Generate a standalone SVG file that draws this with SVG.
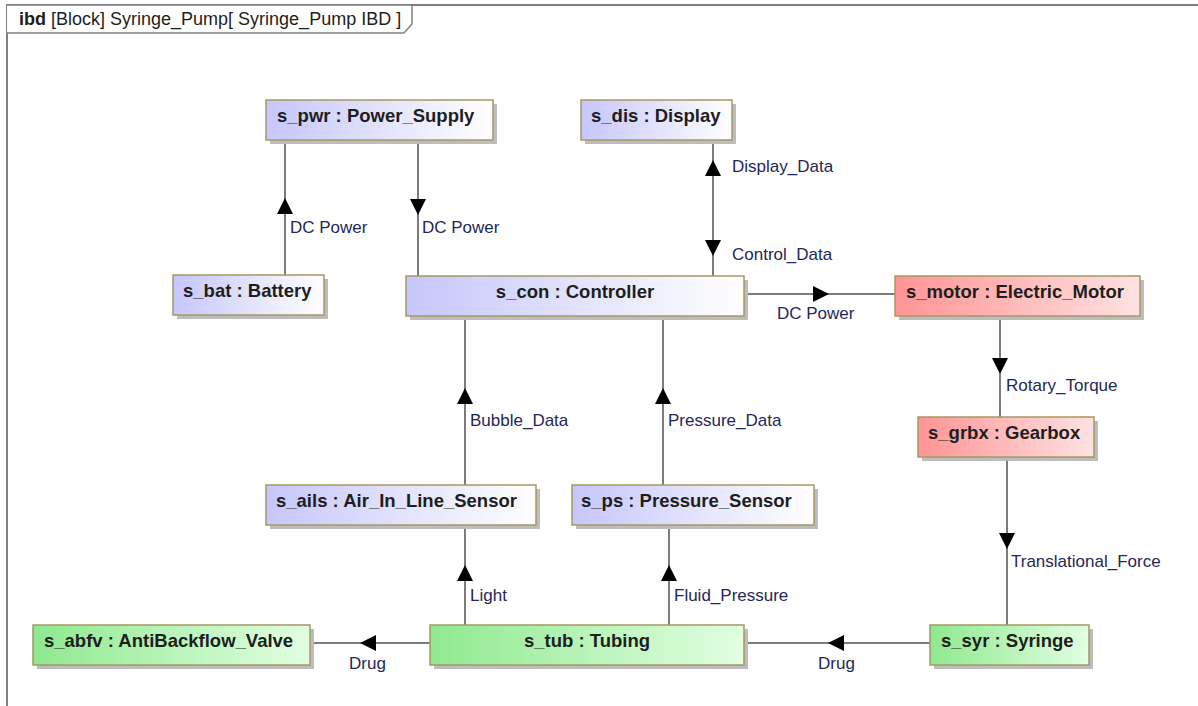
<svg xmlns="http://www.w3.org/2000/svg" width="1198" height="706" viewBox="0 0 1198 706">
  <defs>
    <linearGradient id="gBlue" x1="0" y1="0" x2="1" y2="0">
      <stop offset="0" stop-color="#c6c6fb"/>
      <stop offset="1" stop-color="#ffffff"/>
    </linearGradient>
    <linearGradient id="gRed" x1="0" y1="0" x2="1" y2="0">
      <stop offset="0" stop-color="#ff9494"/>
      <stop offset="1" stop-color="#ffe2e2"/>
    </linearGradient>
    <linearGradient id="gGreen" x1="0" y1="0" x2="1" y2="0">
      <stop offset="0" stop-color="#8fe98f"/>
      <stop offset="1" stop-color="#e2ffe2"/>
    </linearGradient>
    <!-- filled arrowhead, tip at origin, pointing along +x -->
    <path id="ah" d="M0,0 L-16,-8 L-16,8 Z"/>
  </defs>
  <style>
    .shadow { fill: #bdbdbd; }
    .body { stroke: #a59866; stroke-width: 1.5; }
    .blue { fill: url(#gBlue); }
    .red { fill: url(#gRed); }
    .green { fill: url(#gGreen); }
    .title { font-family: "Liberation Sans", Arial, sans-serif; font-size: 18.5px; font-weight: bold; fill: #1e1e1e; }
    .lbl { font-family: "Liberation Sans", Arial, sans-serif; font-size: 17px; fill: #1f2858; }
    .wire { stroke: #505050; stroke-width: 1.5; fill: none; }
    .head { fill: #000000; }
    .frame { stroke: #808080; stroke-width: 2; fill: none; }
    .hdr { font-family: "Liberation Sans", Arial, sans-serif; font-size: 18px; fill: #1e1e1e; }
  </style>

  <rect x="0" y="0" width="1198" height="706" fill="#ffffff"/>

  <!-- diagram frame with name tab -->
  <g id="frame">
    <path class="frame" d="M7,706 L7,5 L1198,5"/>
    <path d="M7,5 L412,5 L412,24 L404,33 L7,33" fill="#ffffff" stroke="#808080" stroke-width="1.5"/>
    <text class="hdr" x="19" y="25"><tspan font-weight="bold">ibd</tspan> [Block] Syringe_Pump[ Syringe_Pump IBD ]</text>
  </g>

  <!-- connectors -->
  <g id="connectors">
    <line class="wire" x1="285" y1="140" x2="285" y2="275"/>
    <line class="wire" x1="418" y1="140" x2="418" y2="276"/>
    <line class="wire" x1="713" y1="140" x2="713" y2="276"/>
    <line class="wire" x1="744" y1="294" x2="896" y2="294"/>
    <line class="wire" x1="1000" y1="316" x2="1000" y2="417"/>
    <line class="wire" x1="1007" y1="457" x2="1007" y2="625"/>
    <line class="wire" x1="744" y1="643" x2="930" y2="643"/>
    <line class="wire" x1="310" y1="643" x2="430" y2="643"/>
    <line class="wire" x1="465" y1="525" x2="465" y2="625"/>
    <line class="wire" x1="669" y1="525" x2="669" y2="625"/>
    <line class="wire" x1="465" y1="316" x2="465" y2="485"/>
    <line class="wire" x1="663" y1="316" x2="663" y2="485"/>

    <use href="#ah" class="head" transform="translate(285,198) rotate(-90)"/>
    <use href="#ah" class="head" transform="translate(418,215) rotate(90)"/>
    <use href="#ah" class="head" transform="translate(713,160) rotate(-90)"/>
    <use href="#ah" class="head" transform="translate(713,256) rotate(90)"/>
    <use href="#ah" class="head" transform="translate(829,294)"/>
    <use href="#ah" class="head" transform="translate(1000,374) rotate(90)"/>
    <use href="#ah" class="head" transform="translate(1007,549) rotate(90)"/>
    <use href="#ah" class="head" transform="translate(828,643) rotate(180)"/>
    <use href="#ah" class="head" transform="translate(360,643) rotate(180)"/>
    <use href="#ah" class="head" transform="translate(465,565) rotate(-90)"/>
    <use href="#ah" class="head" transform="translate(669,565) rotate(-90)"/>
    <use href="#ah" class="head" transform="translate(465,388) rotate(-90)"/>
    <use href="#ah" class="head" transform="translate(663,388) rotate(-90)"/>

    <text class="lbl" x="290" y="233">DC Power</text>
    <text class="lbl" x="422" y="233">DC Power</text>
    <text class="lbl" x="732" y="172">Display_Data</text>
    <text class="lbl" x="732" y="260">Control_Data</text>
    <text class="lbl" x="777" y="319">DC Power</text>
    <text class="lbl" x="1006" y="391">Rotary_Torque</text>
    <text class="lbl" x="1011" y="567">Translational_Force</text>
    <text class="lbl" x="818" y="669">Drug</text>
    <text class="lbl" x="349" y="669">Drug</text>
    <text class="lbl" x="470" y="601">Light</text>
    <text class="lbl" x="674" y="601">Fluid_Pressure</text>
    <text class="lbl" x="470" y="426">Bubble_Data</text>
    <text class="lbl" x="668" y="426">Pressure_Data</text>
  </g>

  <!-- part blocks -->
  <g id="s_pwr">
    <rect class="shadow" x="270" y="104" width="227" height="40"/>
    <rect class="body blue" x="266" y="100" width="227" height="40"/>
    <text class="title" x="277" y="122">s_pwr : Power_Supply</text>
  </g>
  <g id="s_dis">
    <rect class="shadow" x="585" y="104" width="151" height="40"/>
    <rect class="body blue" x="581" y="100" width="151" height="40"/>
    <text class="title" x="591" y="122">s_dis : Display</text>
  </g>
  <g id="s_bat">
    <rect class="shadow" x="177" y="279" width="151" height="40"/>
    <rect class="body blue" x="173" y="275" width="151" height="40"/>
    <text class="title" x="183" y="297">s_bat : Battery</text>
  </g>
  <g id="s_con">
    <rect class="shadow" x="410" y="280" width="338" height="40"/>
    <rect class="body blue" x="406" y="276" width="338" height="40"/>
    <text class="title" x="575" y="298" text-anchor="middle">s_con : Controller</text>
  </g>
  <g id="s_motor">
    <rect class="shadow" x="899" y="280" width="245" height="40"/>
    <rect class="body red" x="895" y="276" width="245" height="40"/>
    <text class="title" x="906" y="298">s_motor : Electric_Motor</text>
  </g>
  <g id="s_grbx">
    <rect class="shadow" x="922" y="421" width="176" height="40"/>
    <rect class="body red" x="918" y="417" width="176" height="40"/>
    <text class="title" x="928" y="439">s_grbx : Gearbox</text>
  </g>
  <g id="s_ails">
    <rect class="shadow" x="270" y="489" width="270" height="40"/>
    <rect class="body blue" x="266" y="485" width="270" height="40"/>
    <text class="title" x="276" y="507">s_ails : Air_In_Line_Sensor</text>
  </g>
  <g id="s_ps">
    <rect class="shadow" x="576" y="489" width="242" height="40"/>
    <rect class="body blue" x="572" y="485" width="242" height="40"/>
    <text class="title" x="581" y="507">s_ps : Pressure_Sensor</text>
  </g>
  <g id="s_abfv">
    <rect class="shadow" x="37" y="629" width="277" height="40"/>
    <rect class="body green" x="33" y="625" width="277" height="40"/>
    <text class="title" x="44" y="647">s_abfv : AntiBackflow_Valve</text>
  </g>
  <g id="s_tub">
    <rect class="shadow" x="434" y="629" width="314" height="40"/>
    <rect class="body green" x="430" y="625" width="314" height="40"/>
    <text class="title" x="587" y="647" text-anchor="middle">s_tub : Tubing</text>
  </g>
  <g id="s_syr">
    <rect class="shadow" x="934" y="629" width="159" height="40"/>
    <rect class="body green" x="930" y="625" width="159" height="40"/>
    <text class="title" x="941" y="647">s_syr : Syringe</text>
  </g>
</svg>
